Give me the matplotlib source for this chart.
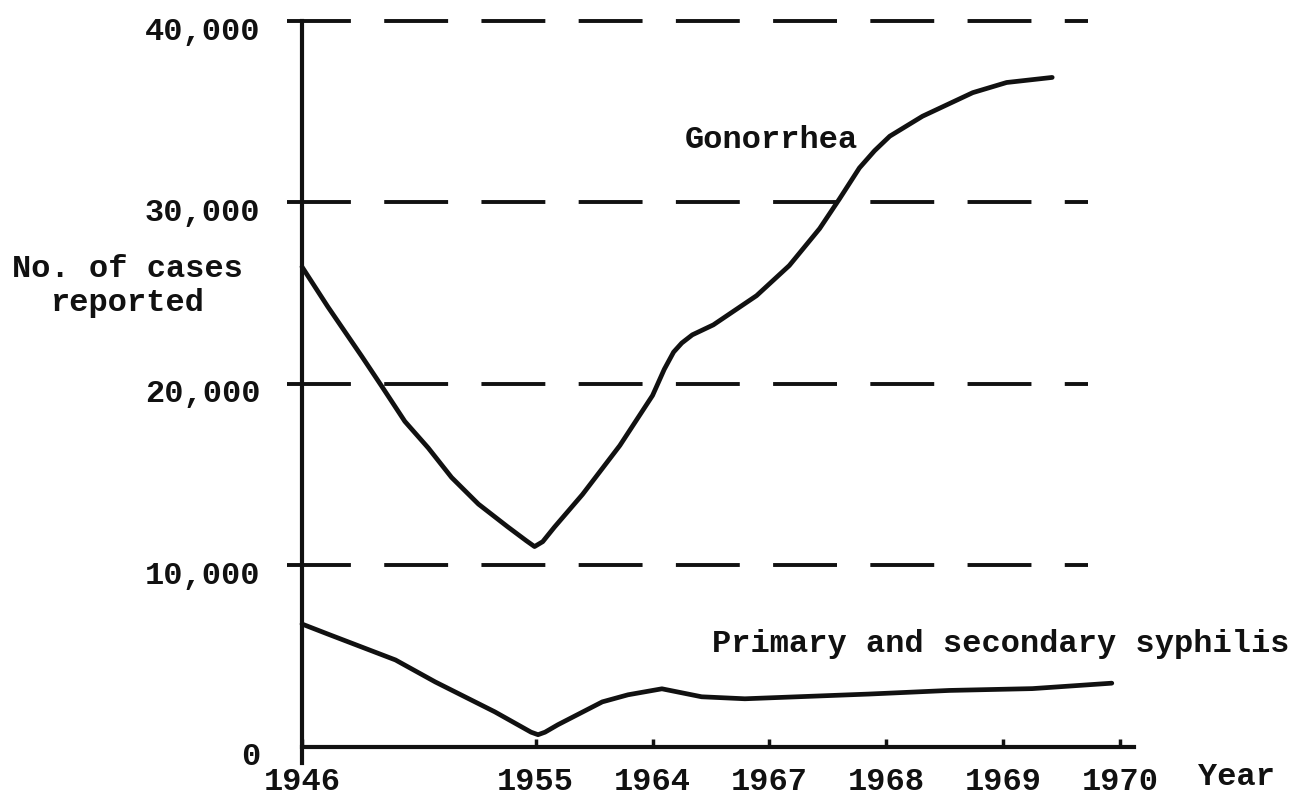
import matplotlib
matplotlib.use("Agg")
import matplotlib.pyplot as plt
import matplotlib.transforms as mtrans

plt.rcParams['font.family'] = ['Liberation Mono', 'DejaVu Sans']
plt.rcParams['lines.scale_dashes'] = False

# ---- data ----
tick_years = ["1946", "1955", "1964", "1967", "1968", "1969", "1970"]
tick_index = [0, 2, 3, 4, 5, 6, 7]          # axis is not linear in time

y_ticks = [0, 10000, 20000, 30000, 40000]
y_tick_labels = ["0", "10,000", "20,000", "30,000", "40,000"]
grid_levels = [10000, 20000, 30000, 40000]

gon_x = [0.0, 0.22, 0.51, 0.68, 0.88, 1.08, 1.28, 1.51, 1.76, 1.92, 1.99, 2.06, 2.16,
         2.4, 2.72, 3.0, 3.1, 3.18, 3.25, 3.34, 3.52, 3.89, 4.17, 4.43, 4.6, 4.77, 4.9, 5.03,
         5.31, 5.74, 6.03, 6.42]
gon_y = [26450, 24260, 21530, 19890, 17930, 16470, 14840, 13370, 12120, 11350, 11030, 11300, 12100,
         13900, 16600, 19360, 20800, 21750, 22250, 22700, 23250, 24860, 26520, 28560, 30200, 31900, 32850, 33650,
         34750, 36050, 36610, 36890]

syph_x = [0.0, 0.22, 0.8, 1.14, 1.65, 1.96, 2.02, 2.08, 2.19, 2.57, 2.79, 3.08, 3.42, 3.79,
          4.85, 5.54, 6.25, 6.93]
syph_y = [6760, 6210, 4780, 3570, 1920, 800, 660, 800, 1210, 2470, 2860, 3190, 2750, 2640,
          2900, 3100, 3200, 3500]

# ---- figure ----
W, H = 1295, 803
fig = plt.figure(figsize=(W / 100, H / 100), dpi=100)
fig.patch.set_facecolor('white')
ax = fig.add_axes([302 / W, (H - 764) / H, (1134 - 302) / W, (764 - 22) / H])
ax.set_xlim(0, 7.12)
ax.set_ylim(-900, 40000)

fs = 23
ink = '#111111'

for s in ['top', 'right']:
    ax.spines[s].set_visible(False)
ax.spines['bottom'].set_position(('data', 0))
ax.spines['left'].set_bounds(-900, 40000)
for s in ['left', 'bottom']:
    ax.spines[s].set_linewidth(3)
    ax.spines[s].set_color(ink)

ax.hlines(grid_levels, -0.13, 6.73, colors=ink, linewidth=2.8,
          linestyles=[(0, (46, 24))], clip_on=False)

ax.plot(gon_x, gon_y, color=ink, lw=3.4, solid_capstyle='round',
        solid_joinstyle='round', clip_on=False)
ax.plot(syph_x, syph_y, color=ink, lw=3.4, solid_capstyle='round',
        solid_joinstyle='round', clip_on=False)

ax.set_xticks(tick_index)
ax.set_xticklabels(tick_years)
ax.tick_params(axis='x', direction='in', length=6, width=2.5, color=ink,
               labelsize=fs, pad=14, labelcolor=ink)
for lbl in ax.get_xticklabels():
    lbl.set_fontweight('bold')

ax.set_yticks(y_ticks)
ax.set_yticklabels(y_tick_labels)
ax.tick_params(axis='y', direction='out', length=0, labelsize=fs, pad=30, labelcolor=ink)
off = mtrans.ScaledTranslation(0, -6 / 100, fig.dpi_scale_trans)
for lbl in ax.get_yticklabels():
    lbl.set_fontweight('bold')
    lbl.set_transform(lbl.get_transform() + off)

ax.text(8.0, -1600, "Year", fontsize=fs, fontweight='bold', color=ink,
        ha='center', va='center', clip_on=False)
ax.text(4.02, 33500, "Gonorrhea", fontsize=fs, fontweight='bold', color=ink,
        ha='center', va='center')
ax.text(3.51, 5700, "Primary and secondary syphilis", fontsize=fs, fontweight='bold',
        color=ink, ha='left', va='center')
fig.text(128 / W, 1 - 286 / H, "No. of cases\nreported", fontsize=fs, fontweight='bold',
         color=ink, ha='center', va='center', multialignment='center', linespacing=1.15)

fig.savefig("out.png", dpi=100, facecolor='white')
